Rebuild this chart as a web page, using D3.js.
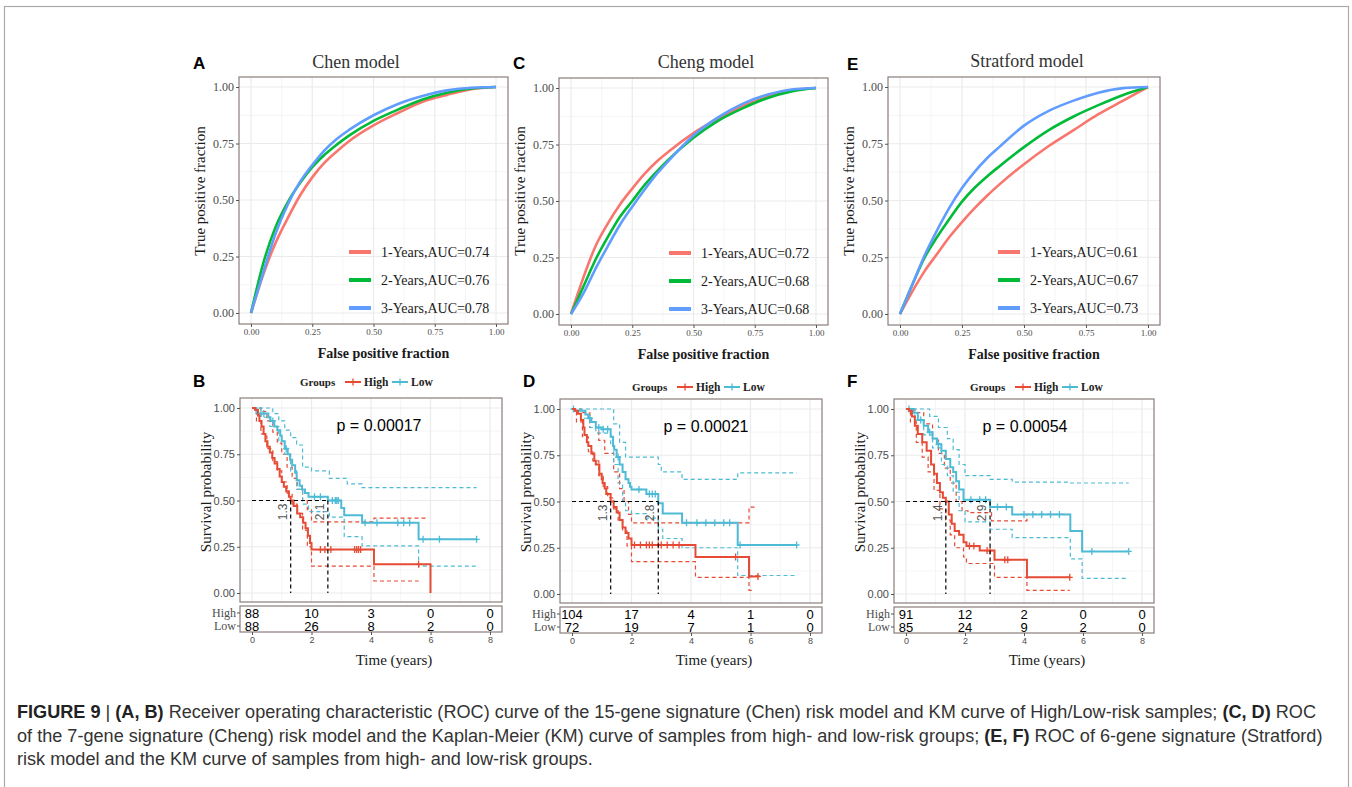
<!DOCTYPE html>
<html>
<head>
<meta charset="utf-8">
<script src="https://cdn.jsdelivr.net/npm/d3@7"></script>
<style>
  body { margin: 0; background: #fff; }
  svg { display: block; }
</style>
</head>
<body>
<svg id="fig" width="1352" height="787"></svg>
<script>
// ROC curves (false positive fraction -> true positive fraction)
var rocFpr = [0, 0.05, 0.1, 0.15, 0.2, 0.25, 0.3, 0.35, 0.4, 0.5, 0.6, 0.7, 0.8, 0.9, 1];
var chenTpr1 = [0, 0.17, 0.31, 0.42, 0.52, 0.60, 0.665, 0.715, 0.76, 0.83, 0.885, 0.935, 0.965, 0.99, 1];
var chenTpr2 = [0, 0.22, 0.38, 0.49, 0.575, 0.645, 0.70, 0.745, 0.785, 0.85, 0.90, 0.945, 0.975, 0.993, 1];
var chenTpr3 = [0, 0.18, 0.35, 0.48, 0.58, 0.655, 0.72, 0.77, 0.81, 0.875, 0.925, 0.96, 0.985, 0.997, 1];
var chengTpr1 = [0, 0.16, 0.30, 0.40, 0.485, 0.555, 0.62, 0.675, 0.72, 0.80, 0.865, 0.92, 0.96, 0.99, 1];
var chengTpr2 = [0, 0.12, 0.24, 0.34, 0.43, 0.50, 0.57, 0.63, 0.685, 0.78, 0.855, 0.91, 0.955, 0.985, 1];
var chengTpr3 = [0, 0.09, 0.20, 0.30, 0.395, 0.475, 0.55, 0.62, 0.68, 0.79, 0.87, 0.93, 0.97, 0.993, 1];
var stratTpr1 = [0, 0.10, 0.19, 0.265, 0.34, 0.405, 0.465, 0.52, 0.57, 0.66, 0.74, 0.81, 0.88, 0.94, 1];
var stratTpr2 = [0, 0.13, 0.25, 0.34, 0.42, 0.495, 0.555, 0.605, 0.65, 0.735, 0.81, 0.87, 0.92, 0.965, 1];
var stratTpr3 = [0, 0.13, 0.26, 0.37, 0.47, 0.555, 0.625, 0.685, 0.735, 0.83, 0.895, 0.94, 0.975, 0.995, 1];
var chenAuc = ["0.74", "0.76", "0.78"];
var chengAuc = ["0.72", "0.68", "0.68"];
var stratAuc = ["0.61", "0.67", "0.73"];
var rocYears = ["1-Years", "2-Years", "3-Years"];
var rocTicks = [0, 0.25, 0.5, 0.75, 1];

// KM curves: [time, survival] steps, last point = end of follow-up
var chenHigh = [[0,1],[0.1,0.99],[0.2,0.96],[0.25,0.93],[0.32,0.9],[0.39,0.86],[0.45,0.82],[0.52,0.79],[0.6,0.76],[0.68,0.73],[0.76,0.7],[0.85,0.67],[0.93,0.63],[1.0,0.6],[1.07,0.575],[1.15,0.55],[1.24,0.52],[1.3,0.5],[1.4,0.47],[1.52,0.43],[1.62,0.41],[1.72,0.38],[1.8,0.35],[1.88,0.31],[1.95,0.27],[2.0,0.235],[4.1,0.155],[6.0,0]];
var chenLow = [[0,1],[0.15,0.97],[0.55,0.95],[0.62,0.93],[0.75,0.9],[0.85,0.88],[0.95,0.85],[1.0,0.82],[1.1,0.78],[1.2,0.75],[1.28,0.72],[1.35,0.69],[1.45,0.65],[1.5,0.61],[1.6,0.58],[1.68,0.56],[1.78,0.54],[1.9,0.52],[2.55,0.5],[3.0,0.46],[3.1,0.42],[3.7,0.38],[5.6,0.29],[7.55,0.29]];
var chenHighUp = [[0,1],[0.3,0.98],[0.5,0.93],[0.7,0.87],[0.85,0.81],[1.0,0.75],[1.18,0.68],[1.35,0.62],[1.52,0.56],[1.7,0.5],[1.86,0.45],[2.0,0.385],[4.1,0.405],[5.9,0.405]];
var chenHighLo = [[0,1],[0.15,0.93],[0.3,0.86],[0.5,0.78],[0.7,0.71],[0.85,0.66],[1.0,0.6],[1.18,0.54],[1.35,0.48],[1.52,0.43],[1.7,0.34],[1.86,0.25],[2.0,0.145],[4.1,0.065],[5.6,0.065]];
var chenLowUp = [[0,1],[0.5,1],[0.7,0.97],[0.9,0.93],[1.1,0.88],[1.3,0.84],[1.5,0.8],[1.7,0.68],[2.0,0.66],[2.6,0.62],[3.2,0.59],[3.7,0.57],[7.55,0.57]];
var chenLowLo = [[0,1],[0.3,0.95],[0.6,0.9],[0.9,0.82],[1.1,0.75],[1.3,0.66],[1.5,0.56],[1.7,0.48],[1.9,0.44],[2.6,0.41],[3.1,0.305],[3.7,0.255],[5.6,0.145],[7.55,0.145]];
var chenHighCens = [2.3, 2.45, 2.65, 3.45, 3.52, 3.58, 3.65, 5.6];
var chenLowCens = [0.3, 0.4, 0.7, 1.15, 2.1, 2.3, 2.7, 2.8, 2.85, 2.9, 3.8, 4.2, 4.9, 5.1, 5.3, 5.75, 6.3, 7.55];

var chengHigh = [[0,1],[0.1,0.99],[0.2,0.975],[0.3,0.94],[0.38,0.9],[0.42,0.86],[0.5,0.82],[0.55,0.8],[0.65,0.76],[0.75,0.72],[0.8,0.7],[0.92,0.65],[1.0,0.62],[1.03,0.6],[1.1,0.57],[1.15,0.54],[1.3,0.5],[1.4,0.47],[1.5,0.44],[1.6,0.4],[1.7,0.36],[1.8,0.33],[1.9,0.3],[2.0,0.265],[4.15,0.2],[5.95,0.095],[6.3,0.095]];
var chengLow = [[0,1],[0.1,0.99],[0.45,0.97],[0.55,0.95],[0.65,0.93],[0.8,0.9],[1.0,0.89],[1.3,0.85],[1.38,0.8],[1.42,0.78],[1.5,0.74],[1.6,0.7],[1.7,0.66],[1.8,0.62],[1.9,0.6],[1.95,0.58],[2.0,0.565],[2.5,0.54],[2.9,0.49],[3.05,0.435],[3.7,0.385],[5.57,0.265],[7.55,0.265]];
var chengHighUp = [[0,1],[0.3,0.98],[0.6,0.9],[0.9,0.83],[1.1,0.76],[1.4,0.66],[1.6,0.57],[1.75,0.5],[1.9,0.43],[2.0,0.385],[5.95,0.47],[6.2,0.47]];
var chengHighLo = [[0,1],[0.15,0.93],[0.35,0.85],[0.55,0.77],[0.7,0.72],[0.9,0.64],[1.05,0.58],[1.2,0.52],[1.4,0.46],[1.55,0.4],[1.7,0.34],[1.85,0.26],[2.0,0.175],[4.15,0.09],[5.95,0.02],[6.1,0.02]];
var chengLowUp = [[0,1],[1.3,1],[1.4,0.92],[1.6,0.82],[1.8,0.74],[2.9,0.7],[3.0,0.66],[3.7,0.62],[5.57,0.655],[7.55,0.655]];
var chengLowLo = [[0,1],[0.3,0.95],[0.6,0.9],[0.8,0.87],[1.3,0.8],[1.4,0.7],[1.55,0.6],[1.7,0.5],[1.8,0.45],[2.0,0.435],[2.5,0.41],[2.9,0.35],[3.05,0.3],[3.7,0.25],[5.57,0.1],[7.55,0.1]];
var chengHighCens = [2.1, 2.3, 2.5, 2.6, 2.7, 2.9, 3.0, 3.2, 3.4, 3.6, 5.5, 6.25];
var chengLowCens = [0.05, 0.6, 0.9, 1.05, 1.2, 1.55, 2.25, 2.6, 2.7, 2.8, 3.85, 4.2, 4.5, 4.8, 5.1, 5.3, 5.65, 7.55];

var stratHigh = [[0,1],[0.1,0.99],[0.2,0.96],[0.3,0.91],[0.4,0.865],[0.55,0.82],[0.7,0.775],[0.85,0.7],[0.95,0.65],[1.05,0.6],[1.15,0.55],[1.25,0.52],[1.35,0.5],[1.45,0.43],[1.55,0.38],[1.65,0.34],[1.8,0.32],[1.95,0.28],[2.05,0.26],[2.5,0.235],[3.0,0.185],[4.1,0.09],[5.57,0.09]];
var stratLow = [[0,1],[0.25,0.98],[0.4,0.94],[0.6,0.91],[0.75,0.875],[0.9,0.84],[1.05,0.81],[1.2,0.775],[1.35,0.73],[1.5,0.685],[1.6,0.66],[1.7,0.61],[1.8,0.565],[1.95,0.51],[2.85,0.47],[3.6,0.43],[5.57,0.34],[5.97,0.23],[7.55,0.23]];
var stratHighUp = [[0,1],[0.3,0.98],[0.6,0.92],[0.9,0.84],[1.1,0.76],[1.3,0.68],[1.5,0.6],[1.7,0.5],[1.9,0.45],[2.1,0.44],[2.9,0.395],[4.1,0.43],[5.55,0.43]];
var stratHighLo = [[0,1],[0.15,0.93],[0.35,0.82],[0.55,0.74],[0.75,0.66],[0.95,0.56],[1.15,0.46],[1.35,0.4],[1.5,0.32],[1.65,0.25],[1.95,0.2],[2.05,0.165],[3.0,0.09],[4.1,0.02],[5.55,0.02]];
var stratLowUp = [[0,1],[0.5,1],[0.8,0.96],[1.1,0.9],[1.4,0.84],[1.6,0.78],[1.8,0.7],[2.0,0.64],[2.85,0.62],[3.6,0.605],[5.57,0.6],[7.55,0.6]];
var stratLowLo = [[0,1],[0.3,0.94],[0.6,0.86],[0.9,0.79],[1.2,0.7],[1.4,0.64],[1.6,0.55],[1.8,0.45],[2.0,0.39],[2.85,0.35],[3.6,0.305],[5.57,0.19],[5.97,0.085],[7.55,0.085]];
var stratHighCens = [2.15, 2.3, 2.75, 2.85, 3.35, 3.45, 5.55];
var stratLowCens = [0.1, 0.5, 0.8, 1.1, 2.2, 2.5, 2.7, 3.1, 3.4, 4.0, 4.3, 4.6, 4.9, 5.2, 6.3, 7.55];

// medians (time at 50%) and their printed labels
var chenMedians = [1.3, 2.55], chenMedLabels = ["1.3", "2.1"];
var chengMedians = [1.3, 2.9], chengMedLabels = ["1.3", "2.8"];
var stratMedians = [1.35, 2.85], stratMedLabels = ["1.4", "2.9"];

// number at risk
var riskTimes = [0, 2, 4, 6, 8];
var chenRiskHigh = [88, 10, 3, 0, 0], chenRiskLow = [88, 26, 8, 2, 0];
var chengRiskHigh = [104, 17, 4, 1, 0], chengRiskLow = [72, 19, 7, 1, 0];
var stratRiskHigh = [91, 12, 2, 0, 0], stratRiskLow = [85, 24, 9, 2, 0];
var pvalues = ["p = 0.00017", "p = 0.00021", "p = 0.00054"];
var kmTicks = [0, 0.25, 0.5, 0.75, 1];

var SERIF = "'Liberation Serif', 'Times New Roman', serif";
var SANS = "'Liberation Sans', Arial, Helvetica, sans-serif";
var BORDER = "#8a7e7a";
var GRID = "#EBEBEB";
var rocColors = ["#F8766D", "#00BA38", "#619CFF"];
var RED = "#E64B35", BLUE = "#4DBBD5";

var svg = d3.select("#fig");

// cadre gris de la figure
svg.append("rect").attr("x", 4.5).attr("y", 6.5).attr("width", 1344).attr("height", 800)
  .attr("fill", "none").attr("stroke", "#aaa").attr("stroke-width", 1.2);

function letter (x, y, t){
  svg.append("text").attr("x", x).attr("y", y)
    .attr("font-family", SANS).attr("font-weight", "bold").attr("font-size", "17px")
    .attr("fill", "#000").text(t);
}

function grid (g, x, y, L, xs, ys){
  g.append("rect").attr("x", L.left).attr("y", L.top)
    .attr("width", L.right - L.left).attr("height", L.bottom - L.top).attr("fill", "#fff");
  g.selectAll(null).data(xs.minor).join("line")
    .attr("x1", d => x(d)).attr("x2", d => x(d)).attr("y1", L.top).attr("y2", L.bottom)
    .attr("stroke", "#F2F2F2").attr("stroke-width", 0.8);
  g.selectAll(null).data(ys.minor).join("line")
    .attr("y1", d => y(d)).attr("y2", d => y(d)).attr("x1", L.left).attr("x2", L.right)
    .attr("stroke", "#F2F2F2").attr("stroke-width", 0.8);
  g.selectAll(null).data(xs.major).join("line")
    .attr("x1", d => x(d)).attr("x2", d => x(d)).attr("y1", L.top).attr("y2", L.bottom)
    .attr("stroke", GRID).attr("stroke-width", 1.2);
  g.selectAll(null).data(ys.major).join("line")
    .attr("y1", d => y(d)).attr("y2", d => y(d)).attr("x1", L.left).attr("x2", L.right)
    .attr("stroke", GRID).attr("stroke-width", 1.2);
}

function styleAxis (a, size){
  a.select(".domain").remove();
  a.selectAll(".tick line").attr("stroke", "#555");
  a.selectAll(".tick text").attr("font-family", SERIF).attr("font-size", size)
    .attr("fill", "#4D4D4D");
}

function drawRoc (L, title, tprs, aucs){
  var g = svg.append("g");
  var x = d3.scaleLinear().domain([0, 1]).range([L.left + 12, L.right - 12]);
  var y = d3.scaleLinear().domain([0, 1]).range([L.bottom - 11, L.top + 10]);
  grid(g, x, y, L, {major: rocTicks, minor: [0.125, 0.375, 0.625, 0.875]},
    {major: rocTicks, minor: [0.125, 0.375, 0.625, 0.875]});

  var line = d3.line().x(d => x(d[0])).y(d => y(d[1])).curve(d3.curveMonotoneX);
  tprs.forEach(function (t, i){
    g.append("path").datum(rocFpr.map((f, j) => [f, t[j]]))
      .attr("d", line).attr("fill", "none")
      .attr("stroke", rocColors[i]).attr("stroke-width", 2.6);
  });

  g.append("rect").attr("x", L.left).attr("y", L.top)
    .attr("width", L.right - L.left).attr("height", L.bottom - L.top)
    .attr("fill", "none").attr("stroke", BORDER).attr("stroke-width", 1.2);

  g.append("g").attr("transform", "translate(" + L.left + ",0)")
    .call(d3.axisLeft(y).tickValues(rocTicks).tickFormat(d3.format(".2f")).tickSize(3).tickPadding(2))
    .call(a => styleAxis(a, "12px"));
  g.append("g").attr("transform", "translate(0," + L.bottom + ")")
    .call(d3.axisBottom(x).tickValues(rocTicks).tickFormat(d3.format(".2f")).tickSize(3).tickPadding(2))
    .call(a => styleAxis(a, "9px"));

  // légende
  aucs.forEach(function (a, i){
    var ly = L.top + 175 + 28*i;
    g.append("line").attr("x1", L.left + 110).attr("x2", L.left + 132)
      .attr("y1", ly).attr("y2", ly).attr("stroke", rocColors[i]).attr("stroke-width", 4);
    g.append("text").attr("x", L.left + 142).attr("y", ly + 5)
      .attr("font-family", SERIF).attr("font-size", "14px").attr("fill", "#1a1a1a")
      .text(rocYears[i] + ",AUC=" + a);
  });

  g.append("text").attr("x", L.titleX).attr("y", L.titleY).attr("text-anchor", "middle")
    .attr("font-family", SERIF).attr("font-size", "18px").attr("fill", "#333").text(title);
  g.append("text").attr("x", (x(0) + x(1))/2 + 10).attr("y", L.bottom + 34).attr("text-anchor", "middle")
    .attr("font-family", SERIF).attr("font-weight", "bold").attr("font-size", "14px")
    .attr("fill", "#1a1a1a").text("False positive fraction");
  g.append("text").attr("transform", "translate(" + (L.left - 34) + ",191) rotate(-90)")
    .attr("text-anchor", "middle").attr("font-family", SERIF).attr("font-size", "15px")
    .attr("fill", "#1a1a1a").text("True positive fraction");
  letter(L.lx, L.ly, L.letter);
}

function survAt (steps, t){
  var s = 1;
  steps.forEach(function (p){ if (p[0] <= t) s = p[1]; });
  return s;
}

function drawKm (L, d){
  var g = svg.append("g");
  var x = d3.scaleLinear().domain([0, 8]).range([L.left + 12, L.right - 12]);
  var y = d3.scaleLinear().domain([0, 1]).range([L.bottom - 9, L.top + 10]);
  grid(g, x, y, L, {major: riskTimes, minor: [1, 3, 5, 7]},
    {major: kmTicks, minor: [0.125, 0.375, 0.625, 0.875]});

  var step = d3.line().x(p => x(p[0])).y(p => y(p[1])).curve(d3.curveStepAfter);
  [[d.highUp, RED], [d.highLo, RED], [d.lowUp, BLUE], [d.lowLo, BLUE]].forEach(function (c){
    g.append("path").datum(c[0]).attr("d", step).attr("fill", "none")
      .attr("stroke", c[1]).attr("stroke-width", 1.2).attr("stroke-dasharray", "4,3");
  });
  [[d.low, BLUE, d.lowCens], [d.high, RED, d.highCens]].forEach(function (c){
    g.append("path").datum(c[0]).attr("d", step).attr("fill", "none")
      .attr("stroke", c[1]).attr("stroke-width", 2);
    c[2].forEach(function (t){
      var cx = x(t), cy = y(survAt(c[0], t));
      g.append("path").attr("d", "M" + (cx - 3) + "," + cy + "H" + (cx + 3) + "M" + cx + "," + (cy - 3.5) + "V" + (cy + 3.5))
        .attr("stroke", c[1]).attr("stroke-width", 1.3);
    });
  });

  // médianes
  var mMax = d3.max(d.medians);
  g.append("line").attr("x1", x(0)).attr("x2", x(mMax)).attr("y1", y(0.5)).attr("y2", y(0.5))
    .attr("stroke", "#000").attr("stroke-width", 1.2).attr("stroke-dasharray", "4,3");
  d.medians.forEach(function (m, i){
    g.append("line").attr("x1", x(m)).attr("x2", x(m)).attr("y1", y(0.5)).attr("y2", y(0))
      .attr("stroke", "#000").attr("stroke-width", 1.2).attr("stroke-dasharray", "4,3");
    g.append("text").attr("transform", "translate(" + (x(m) - 4) + "," + (y(0.5) + 3) + ") rotate(-90)")
      .attr("text-anchor", "end").attr("font-family", SANS).attr("font-size", "12px")
      .attr("fill", "#555").text(d.medLabels[i]);
  });

  g.append("rect").attr("x", L.left).attr("y", L.top)
    .attr("width", L.right - L.left).attr("height", L.bottom - L.top)
    .attr("fill", "none").attr("stroke", BORDER).attr("stroke-width", 1.2);
  g.append("g").attr("transform", "translate(" + L.left + ",0)")
    .call(d3.axisLeft(y).tickValues(kmTicks).tickFormat(d3.format(".2f")).tickSize(3).tickPadding(2))
    .call(a => styleAxis(a, "11px"));

  g.append("text").attr("x", L.pX).attr("y", L.top + 33).attr("text-anchor", "middle")
    .attr("font-family", SANS).attr("font-size", "16px").attr("fill", "#000").text(d.pval);

  // légende Groups
  g.append("text").attr("x", L.legX).attr("y", L.legY + 4)
    .attr("font-family", SERIF).attr("font-weight", "bold").attr("font-size", "11px")
    .attr("fill", "#222").text("Groups");
  [["High", RED, 45], ["Low", BLUE, 92]].forEach(function (it){
    var x0 = L.legX + it[2];
    g.append("line").attr("x1", x0).attr("x2", x0 + 16).attr("y1", L.legY).attr("y2", L.legY)
      .attr("stroke", it[1]).attr("stroke-width", 2);
    g.append("line").attr("x1", x0 + 8).attr("x2", x0 + 8).attr("y1", L.legY - 3.5).attr("y2", L.legY + 3.5)
      .attr("stroke", it[1]).attr("stroke-width", 1.3);
    g.append("text").attr("x", x0 + 19).attr("y", L.legY + 4)
      .attr("font-family", SERIF).attr("font-weight", "bold").attr("font-size", "11.5px")
      .attr("fill", "#222").text(it[0]);
  });

  // tableau des effectifs
  var bt = L.bottom + 4, bb = L.bottom + 30;
  g.append("rect").attr("x", L.left).attr("y", bt).attr("width", L.right - L.left).attr("height", bb - bt)
    .attr("fill", "#fff").attr("stroke", BORDER).attr("stroke-width", 1.2);
  [["High", d.riskHigh, bt + 12], ["Low", d.riskLow, bt + 25]].forEach(function (row){
    g.append("text").attr("x", L.left - 4).attr("y", row[2] - 1).attr("text-anchor", "end")
      .attr("font-family", SERIF).attr("font-size", "12px").attr("fill", "#4D4D4D").text(row[0]);
    g.append("line").attr("x1", L.left - 3).attr("x2", L.left).attr("y1", row[2] - 5).attr("y2", row[2] - 5)
      .attr("stroke", "#555");
    row[1].forEach(function (n, i){
      g.append("text").attr("x", x(riskTimes[i])).attr("y", row[2]).attr("text-anchor", "middle")
        .attr("font-family", SANS).attr("font-size", "13px").attr("fill", "#000").text(n);
    });
  });
  g.append("g").attr("transform", "translate(0," + bb + ")")
    .call(d3.axisBottom(x).tickValues(riskTimes).tickSize(3).tickPadding(2))
    .call(a => styleAxis(a, "9px"));
  g.selectAll(".tick text").attr("font-family", SANS);

  g.append("text").attr("x", (x(0) + x(8))/2 + 23).attr("y", 665).attr("text-anchor", "middle")
    .attr("font-family", SERIF).attr("font-size", "15px").attr("fill", "#1a1a1a").text("Time (years)");
  g.append("text").attr("transform", "translate(" + (L.left - 29) + ",492) rotate(-90)")
    .attr("text-anchor", "middle").attr("font-family", SERIF).attr("font-size", "15px")
    .attr("fill", "#1a1a1a").text("Survival probability");
  letter(L.lx, L.ly, L.letter);
}

drawRoc({left: 239, right: 508, top: 77, bottom: 324, letter: "A", lx: 193, ly: 69, titleX: 356, titleY: 68},
  "Chen model", [chenTpr1, chenTpr2, chenTpr3], chenAuc);
drawRoc({left: 559, right: 828, top: 78, bottom: 325, letter: "C", lx: 513, ly: 69, titleX: 706, titleY: 68},
  "Cheng model", [chengTpr1, chengTpr2, chengTpr3], chengAuc);
drawRoc({left: 888, right: 1160, top: 77, bottom: 325, letter: "E", lx: 847, ly: 70, titleX: 1027, titleY: 67},
  "Stratford model", [stratTpr1, stratTpr2, stratTpr3], stratAuc);

drawKm({left: 240, right: 502, top: 398, bottom: 602, letter: "B", lx: 193, ly: 387, legX: 300, legY: 382, pX: 379},
  {high: chenHigh, low: chenLow, highUp: chenHighUp, highLo: chenHighLo, lowUp: chenLowUp, lowLo: chenLowLo,
   highCens: chenHighCens, lowCens: chenLowCens, medians: chenMedians, medLabels: chenMedLabels,
   riskHigh: chenRiskHigh, riskLow: chenRiskLow, pval: pvalues[0]});
drawKm({left: 560, right: 822, top: 399, bottom: 603, letter: "D", lx: 523, ly: 387, legX: 632, legY: 387, pX: 706},
  {high: chengHigh, low: chengLow, highUp: chengHighUp, highLo: chengHighLo, lowUp: chengLowUp, lowLo: chengLowLo,
   highCens: chengHighCens, lowCens: chengLowCens, medians: chengMedians, medLabels: chengMedLabels,
   riskHigh: chengRiskHigh, riskLow: chengRiskLow, pval: pvalues[1]});
drawKm({left: 894, right: 1154, top: 399, bottom: 603, letter: "F", lx: 847, ly: 387, legX: 970, legY: 387, pX: 1025},
  {high: stratHigh, low: stratLow, highUp: stratHighUp, highLo: stratHighLo, lowUp: stratLowUp, lowLo: stratLowLo,
   highCens: stratHighCens, lowCens: stratLowCens, medians: stratMedians, medLabels: stratMedLabels,
   riskHigh: stratRiskHigh, riskLow: stratRiskLow, pval: pvalues[2]});

// légende de la figure
var caption = [
  [["FIGURE 9", true], [" | ", false], ["(A, B)", true], [" Receiver operating characteristic (ROC) curve of the 15-gene signature (Chen) risk model and KM curve of High/Low-risk samples; ", false], ["(C, D)", true], [" ROC", false]],
  [["of the 7-gene signature (Cheng) risk model and the Kaplan-Meier (KM) curve of samples from high- and low-risk groups; ", false], ["(E, F)", true], [" ROC of 6-gene signature (Stratford)", false]],
  [["risk model and the KM curve of samples from high- and low-risk groups.", false]]
];
var capLines = caption.map(function (parts, i){
  var t = svg.append("text").attr("x", 17).attr("y", 718 + 23.5*i)
    .attr("font-family", SANS).attr("font-size", "15px").attr("fill", "#333");
  parts.forEach(function (p){
    t.append("tspan").attr("font-weight", p[1] ? "bold" : "normal")
      .attr("fill", p[1] ? "#222" : "#333").text(p[0]);
  });
  return t;
});
var w = capLines[0].node().getComputedTextLength();
var fs = 15 * 1300 / w;
capLines.forEach(t => t.attr("font-size", fs + "px"));
</script>
</body>
</html>
